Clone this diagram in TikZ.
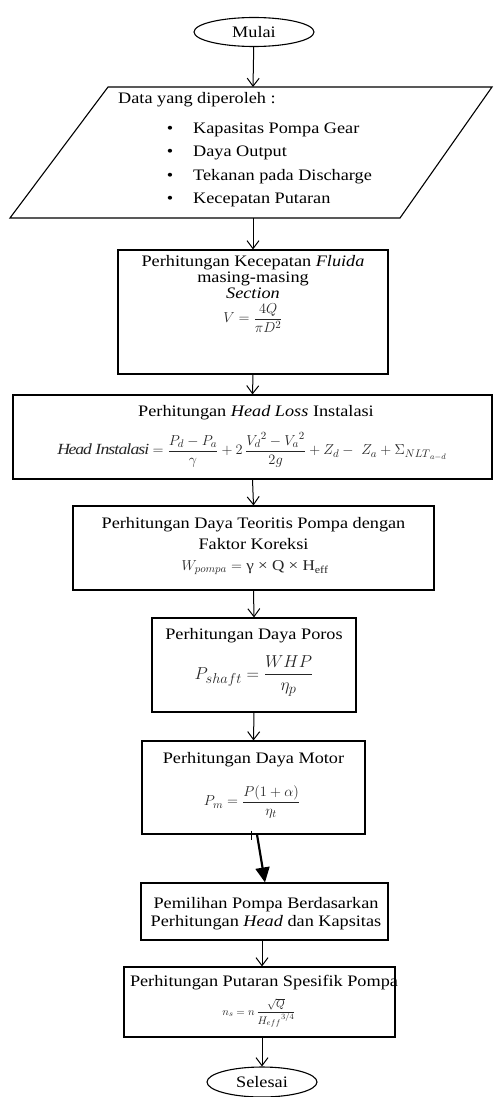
\documentclass[tikz,border=0pt]{standalone}
\usepackage{amsmath, amssymb}
\usepackage{fontspec}
\setmainfont{Liberation Serif}[FakeStretch=1.14]
\usetikzlibrary{shapes.geometric, arrows.meta, calc}

\begin{document}
\begin{tikzpicture}[x=1pt, y=-1pt, >={Straight Barb[length=8pt, width=12pt]},
	procbox/.style = {draw, line width=1.1pt, inner sep=0pt},
	termbox/.style = {draw, ellipse, line width=1.1pt, inner sep=0pt, font=\fontsize{16}{16}\selectfont},
	boxtext/.style = {inner sep=0pt, align=center, font=\fontsize{16}{16}\selectfont},
	formula/.style = {inner sep=0pt, text=black!85, font=\fontsize{15}{15}\selectfont},
	flow/.style = {->, line width=1pt}]

\useasboundingbox (0,0) rectangle (493,1097);

\node[termbox, minimum width=120, minimum height=29] (mulai) at (254,32) {Mulai};

\draw[line width=1.1pt] (108,87) -- (492,87) -- (400,218) -- (10,218) -- cycle;
\coordinate (data-n) at (253,87);
\coordinate (data-s) at (253,218);
\node[boxtext, anchor=west] (data-t) at (118,100) {Data yang diperoleh :};
\foreach \y/\txt in {130/Kapasitas Pompa Gear, 153/Daya Output, 177/Tekanan pada Discharge, 200/Kecepatan Putaran}{
	\node[boxtext] (dot-\y) at (170,\y) {\textbullet};
	\node[boxtext, anchor=west] (item-\y) at (193,\y) {\txt};
}

\node[procbox, minimum width=270, minimum height=124] (kec) at (253,312) {};
\node[boxtext] (kec-t) at (253,277) {Perhitungan Kecepatan \textit{Fluida}\\masing-masing\\\textit{Section}};
\node[formula] (kec-f) at (253,318) {$\displaystyle V = \frac{4Q}{\pi D^2}$};

\node[procbox, minimum width=479, minimum height=84] (head) at (252.5,437) {};
\node[boxtext] (head-t) at (256,413) {Perhitungan \textit{Head Loss} Instalasi};
\node[formula, font=\fontsize{15.5}{15.5}\selectfont] (head-f) at (252,450) {$\displaystyle \mathit{Head\ Instalasi} = \frac{P_d - P_a}{\gamma} + 2\,\frac{{V_d}^2 - {V_a}^2}{2g} + Z_d -\ Z_a + \Sigma_{{NLT}_{a-d}}$};

\node[procbox, minimum width=361, minimum height=84] (teori) at (253.5,548) {};
\node[boxtext] (teori-t) at (253.5,533.5) {Perhitungan Daya Teoritis Pompa dengan\\[5pt]Faktor Koreksi};
\node[formula] (teori-f) at (255,568) {$W_{pompa} =$ γ × Q × H\textsubscript{eff}};

\node[procbox, minimum width=204, minimum height=94] (poros) at (254,665) {};
\node[boxtext] (poros-t) at (254,636) {Perhitungan Daya Poros};
\node[formula, font=\fontsize{19}{19}\selectfont] (poros-f) at (254,676) {$\displaystyle P_{shaft} = \frac{WHP}{\eta_p}$};

\node[procbox, minimum width=223, minimum height=93] (motor) at (253.5,787.5) {};
\node[boxtext] (motor-t) at (253.5,760) {Perhitungan Daya Motor};
\node[formula] (motor-f) at (252,802) {$\displaystyle P_m = \frac{P(1+\alpha)}{\eta_t}$};

\node[procbox, minimum width=247, minimum height=57] (pilih) at (264.5,911.5) {};
\node[boxtext] (pilih-t) at (266,914) {Pemilihan Pompa Berdasarkan\\[2pt]Perhitungan \textit{Head} dan Kapsitas};

\node[procbox, minimum width=271, minimum height=70] (putar) at (259.5,1002) {};
\node[boxtext] (putar-t) at (264,983) {Perhitungan Putaran Spesifik Pompa};
\node[formula, font=\fontsize{11}{11}\selectfont] (putar-f) at (259,1013) {$n_s = n\,\dfrac{\sqrt{Q}}{{H_{eff}}^{3/4}}$};

\node[termbox, minimum width=110, minimum height=30] (selesai) at (262,1082) {Selesai};

\draw[flow] (mulai) -- (data-n);
\draw[flow] (data-s) -- (kec);
\draw[flow] (kec.south) -- (head.north);
\draw[flow] (head.south) -- (teori.north);
\draw[flow] (teori.south) -- (poros.north);
\draw[flow] (poros.south) -- (motor.north);
\draw[line width=2.2pt, -{Triangle[length=15pt, width=14pt]}] ($(motor.south)+(3.5,0)$) -- ($(pilih.north)+(0.5,0)$);
\draw[line width=0.8pt] ($(motor.south)+(-2.5,-4)$) -- +(0,9);
\draw[flow] (pilih.south -| selesai) -- (putar.north -| selesai);
\draw[flow] (putar.south -| selesai) -- (selesai);
\end{tikzpicture}
\end{document}
